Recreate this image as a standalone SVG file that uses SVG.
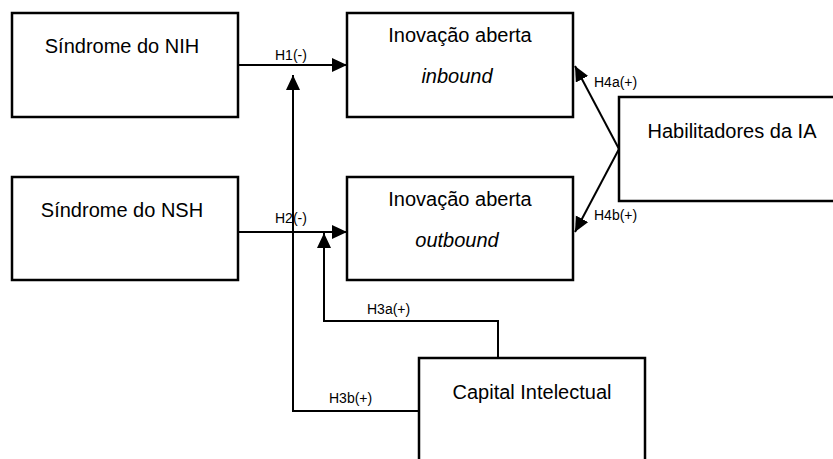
<svg xmlns="http://www.w3.org/2000/svg" width="833" height="459" viewBox="0 0 833 459">
<style>
.box{fill:#fff;stroke:#000;stroke-width:2.5}
.t{font-family:"Liberation Sans",Arial,sans-serif;font-size:20px;fill:#000;text-anchor:middle}
.i{font-style:italic}
.lb{font-family:"Liberation Sans",Arial,sans-serif;font-size:14px;fill:#000}
.c{fill:none;stroke:#000;stroke-width:2}
</style>
<defs>
<marker id="ah" markerUnits="userSpaceOnUse" markerWidth="16" markerHeight="16" refX="15" refY="7" orient="auto">
<path d="M0,0 L15,7 L0,14 Z" fill="#000"/>
</marker>
</defs>
<rect width="833" height="459" fill="#fff"/>
<g id="nih"><rect class="box" x="12" y="13" width="226" height="104"/><text class="t" x="122" y="53">Síndrome do NIH</text></g>
<g id="inbound"><rect class="box" x="347" y="13" width="226" height="104"/><text class="t" x="460" y="42">Inovação aberta</text><text class="t i" x="457" y="83">inbound</text></g>
<g id="nsh"><rect class="box" x="12" y="177" width="226" height="103"/><text class="t" x="122" y="217">Síndrome do NSH</text></g>
<g id="outbound"><rect class="box" x="347" y="177" width="226" height="103"/><text class="t" x="460" y="206">Inovação aberta</text><text class="t i" x="457" y="247">outbound</text></g>
<g id="habilitadores"><rect class="box" x="619" y="97" width="230" height="104"/><text class="t" x="732" y="138">Habilitadores da IA</text></g>
<g id="capital"><rect class="box" x="419" y="358" width="226" height="120"/><text class="t" x="532" y="399">Capital Intelectual</text></g>
<g id="connectors">
<line class="c" x1="238" y1="65" x2="347" y2="65" marker-end="url(#ah)"/>
<line class="c" x1="238" y1="232" x2="347" y2="232" marker-end="url(#ah)"/>
<polyline class="c" points="419,411 293,411 293,75" marker-end="url(#ah)"/>
<polyline class="c" points="498,358 498,321 324,321 324,233" marker-end="url(#ah)"/>
<line class="c" x1="619" y1="149" x2="575" y2="66" marker-end="url(#ah)"/>
<line class="c" x1="619" y1="149" x2="575" y2="232" marker-end="url(#ah)"/>
<text class="lb" x="275" y="60">H1(-)</text>
<text class="lb" x="275" y="223">H2(-)</text>
<text class="lb" x="367" y="314">H3a(+)</text>
<text class="lb" x="329" y="403">H3b(+)</text>
<text class="lb" x="594" y="87">H4a(+)</text>
<text class="lb" x="594" y="220">H4b(+)</text>
</g>
</svg>
